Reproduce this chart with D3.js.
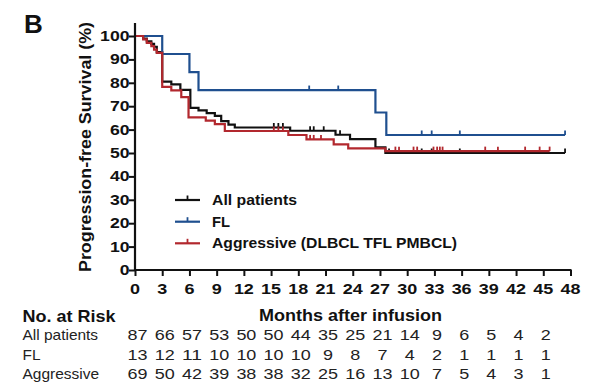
<!DOCTYPE html>
<html><head><meta charset="utf-8">
<script src="https://cdn.jsdelivr.net/npm/d3@7"></script>
<style>body{margin:0;background:#fff}svg{display:block}text{font-family:"Liberation Sans",Arial,sans-serif}</style>
</head><body><svg id="c" width="600" height="392"></svg>
<script>
// ---- data ----
const seriesNames = ["All patients", "FL", "Aggressive (DLBCL TFL PMBCL)"];
const riskRowLabels = ["All patients", "FL", "Aggressive"];
const allTimes = [0,0.9,1.3,1.8,2.1,2.4,3.0,4.0,5.0,6.1,7.0,7.9,8.8,9.5,10.3,11.0,17.1,22.1,23.7,26.5,27.6];
const allSurv  = [100,98.9,97.7,96.6,95.4,93.1,80.5,79.3,77.0,69.3,68.2,67.0,65.9,63.6,62.1,60.9,59.5,57.8,55.9,52.4,50.0];
const allEnd = 47.4;
const allCensor = [15.3,15.8,16.3,19.3,19.7,20.8,22.6,28.0,31.6,32.7,35.8,47.4];
const flTimes = [0,3.0,6.0,7.0,26.5,27.7];
const flSurv  = [100,92.3,84.6,76.9,67.3,57.7];
const flEnd = 47.4;
const flCensor = [19.2,22.4,31.6,32.7,35.8,47.4];
const aggTimes = [0,0.9,1.3,1.8,2.1,2.4,3.0,4.0,5.1,5.9,7.8,8.8,9.9,16.9,18.9,21.9,23.5,27.6];
const aggSurv  = [100,98.6,97.1,95.7,94.2,92.8,78.3,76.8,73.9,65.2,63.8,62.3,59.4,57.7,55.8,53.7,52.0,50.8];
const aggEnd = 45.7;
const aggCensor = [15.3,15.8,16.3,19.3,19.7,20.5,28.7,29.1,30.7,31.1,32.9,33.3,33.6,33.9,38.6,40.0,43.0,44.6,45.7];
const xTicks = [0,3,6,9,12,15,18,21,24,27,30,33,36,39,42,45,48];
const yTicks = [0,10,20,30,40,50,60,70,80,90,100];
const riskTimes = [0,3,6,9,12,15,18,21,24,27,30,33,36,39,42,45];
const riskAll = [87,66,57,53,50,50,44,35,25,21,14,9,6,5,4,2];
const riskFL  = [13,12,11,10,10,10,10,9,8,7,4,2,1,1,1,1];
const riskAgg = [69,50,42,39,38,38,32,25,16,13,10,7,5,4,3,1];
const colors = ["#111111", "#1f4f8f", "#b2282e"];

// ---- chart ----
const svg = d3.select("#c");
const x = d3.scaleLinear().domain([0,48]).range([135,570.5]);
const y = d3.scaleLinear().domain([0,100]).range([270,36]);

const series = [
  {name: seriesNames[0], times: allTimes, surv: allSurv, end: allEnd, censor: allCensor, color: colors[0]},
  {name: seriesNames[1], times: flTimes, surv: flSurv, end: flEnd, censor: flCensor, color: colors[1]},
  {name: seriesNames[2], times: aggTimes, surv: aggSurv, end: aggEnd, censor: aggCensor, color: colors[2]}
];
function survAt(s, t){ let v = s.surv[0]; s.times.forEach((tt,i)=>{ if (tt <= t) v = s.surv[i]; }); return v; }

const line = d3.line().x(d=>x(d[0])).y(d=>y(d[1])).curve(d3.curveStepAfter);
series.forEach(s=>{
  const pts = s.times.map((t,i)=>[t, s.surv[i]]);
  pts.push([s.end, s.surv[s.surv.length-1]]);
  const g = svg.append("g");
  g.append("path").attr("d", line(pts)).attr("fill","none").attr("stroke", s.color).attr("stroke-width",2.2);
  g.selectAll("line.cs").data(s.censor).join("line")
    .attr("x1", d=>x(d)).attr("x2", d=>x(d))
    .attr("y1", d=>y(survAt(s,d))).attr("y2", d=>y(survAt(s,d))-4.5)
    .attr("stroke", s.color).attr("stroke-width",1.8);
});

// axes
const yAxis = d3.axisLeft(y).tickValues(yTicks).tickSize(6).tickFormat("");
const ya = svg.append("g").attr("transform","translate(135,0)").call(yAxis);
ya.select(".domain").remove();
ya.selectAll("line").attr("stroke","#111").attr("stroke-width",2);
svg.append("line").attr("x1",135).attr("x2",135).attr("y1",23).attr("y2",271).attr("stroke","#111").attr("stroke-width",2.2);
svg.selectAll("text.yt").data(yTicks).join("text")
  .attr("x",129.5).attr("y",d=>y(d)+5).attr("text-anchor","end")
  .attr("font-size",14).attr("font-weight","bold").attr("fill","#111")
  .attr("textLength",d=>String(d).length*9.8).attr("lengthAdjust","spacingAndGlyphs").text(d=>d);

const xAxis = d3.axisBottom(x).tickValues(xTicks).tickSize(6).tickFormat("");
const xa = svg.append("g").attr("transform","translate(0,270)").call(xAxis);
xa.select(".domain").remove();
xa.selectAll("line").attr("stroke","#111").attr("stroke-width",2);
svg.append("line").attr("x1",134).attr("x2",571.5).attr("y1",270).attr("y2",270).attr("stroke","#111").attr("stroke-width",2.2);
svg.selectAll("text.xt").data(xTicks).join("text")
  .attr("x",d=>x(d)).attr("y",294).attr("text-anchor","middle")
  .attr("font-size",15).attr("font-weight","bold").attr("fill","#111")
  .attr("textLength",d=>String(d).length*10).attr("lengthAdjust","spacingAndGlyphs").text(d=>d);

// titles
svg.append("text").attr("x",24).attr("y",33).attr("font-size",26).attr("font-weight","bold").attr("fill","#111").text("B");
svg.append("text").attr("transform","translate(91,147) rotate(-90)").attr("text-anchor","middle")
  .attr("font-size",17).attr("font-weight","bold").attr("fill","#111")
  .attr("textLength",250).attr("lengthAdjust","spacingAndGlyphs").text("Progression-free Survival (%)");
svg.append("text").attr("x",350.5).attr("y",321).attr("text-anchor","middle")
  .attr("font-size",16).attr("font-weight","bold").attr("fill","#111")
  .attr("textLength",183).attr("lengthAdjust","spacingAndGlyphs").text("Months after infusion");
svg.append("text").attr("x",22.5).attr("y",322).attr("font-size",16.5).attr("font-weight","bold").attr("fill","#111")
  .attr("textLength",93).attr("lengthAdjust","spacingAndGlyphs").text("No. at Risk");

// legend
const legY = [200, 221.7, 243.3];
const legW = [85, 18, 245];
series.forEach((s,i)=>{
  svg.append("line").attr("x1",175).attr("x2",200).attr("y1",legY[i]).attr("y2",legY[i]).attr("stroke",s.color).attr("stroke-width",2.2);
  svg.append("line").attr("x1",187.5).attr("x2",187.5).attr("y1",legY[i]).attr("y2",legY[i]-4.5).attr("stroke",s.color).attr("stroke-width",1.8);
  svg.append("text").attr("x",212).attr("y",legY[i]+5).attr("font-size",15).attr("font-weight","bold").attr("fill","#111")
    .attr("textLength",legW[i]).attr("lengthAdjust","spacingAndGlyphs").text(s.name);
});

// risk table
const rowY = [340, 359.5, 379.3];
const rowW = [75.6, 18, 76.6];
const rows = [riskAll, riskFL, riskAgg];
rows.forEach((vals,r)=>{
  svg.append("text").attr("x",22.5).attr("y",rowY[r]).attr("font-size",15).attr("fill","#222")
    .attr("textLength",rowW[r]).attr("lengthAdjust","spacingAndGlyphs").text(riskRowLabels[r]);
  svg.selectAll(null).data(vals).join("text")
    .attr("x",(d,i)=>x(riskTimes[i])+2.5).attr("y",rowY[r]).attr("text-anchor","middle")
    .attr("font-size",15).attr("fill","#222")
    .attr("textLength",d=>String(d).length*10).attr("lengthAdjust","spacingAndGlyphs").text(d=>d);
});
</script></body></html>
